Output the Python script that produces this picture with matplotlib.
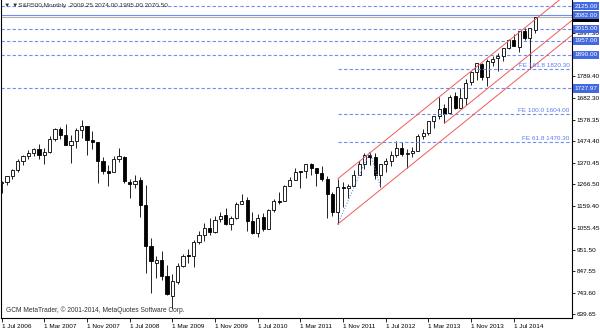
import numpy as np
import matplotlib
matplotlib.use("Agg")
import matplotlib.pyplot as plt

plt.rcParams['font.family'] = ['Liberation Sans', 'DejaVu Sans']

# S&P500 monthly candles, Jul 2006 .. Nov 2014
opens = [1270.1, 1278.5, 1303.8, 1335.8, 1377.8, 1400.6,
         1418.0, 1437.9, 1406.8, 1420.8, 1482.4, 1530.6, 1504.7, 1455.2, 1473.9, 1527.3, 1545.8, 1479.6,
         1468.0, 1378.6, 1330.5, 1326.4, 1386.0, 1399.6, 1276.7, 1269.4, 1287.8, 1164.2, 968.7, 888.6,
         903.0, 823.1, 729.6, 793.6, 872.7, 923.3, 920.8, 990.2, 1019.5, 1054.9, 1036.2, 1098.9,
         1116.6, 1073.9, 1105.4, 1171.2, 1188.6, 1087.3, 1031.1, 1107.5, 1049.7, 1143.5, 1185.7, 1186.6,
         1257.6, 1289.1, 1328.6, 1329.5, 1365.2, 1345.2, 1320.6, 1292.6, 1219.1, 1131.2, 1251.0, 1246.9,
         1258.9, 1312.5, 1365.9, 1408.5, 1397.9, 1309.9, 1362.3, 1379.3, 1406.5, 1440.9, 1412.2, 1416.2,
         1426.2, 1498.1, 1514.7, 1569.2, 1597.6, 1631.7, 1609.8, 1689.4, 1636.0, 1682.4, 1758.7, 1806.6,
         1845.9, 1782.7, 1857.7, 1874.0, 1884.4, 1923.9, 1962.3, 1929.8, 2004.1, 1971.4, 2009.25]
highs = [1280.4, 1306.7, 1340.3, 1389.5, 1407.9, 1431.8,
         1441.6, 1461.6, 1438.9, 1498.0, 1535.6, 1540.6, 1555.9, 1503.9, 1538.7, 1576.1, 1545.8, 1523.6,
         1471.8, 1396.0, 1359.7, 1404.0, 1440.2, 1404.1, 1292.2, 1313.2, 1303.0, 1264.3, 1007.5, 918.9,
         943.9, 875.0, 833.0, 888.7, 930.2, 956.2, 996.7, 1039.5, 1080.2, 1101.4, 1113.7, 1130.4,
         1150.5, 1112.4, 1180.7, 1219.8, 1205.1, 1131.2, 1121.0, 1129.2, 1148.9, 1196.1, 1227.1, 1262.6,
         1302.7, 1344.1, 1332.3, 1364.6, 1370.6, 1345.2, 1356.5, 1307.4, 1229.3, 1292.7, 1277.6, 1269.4,
         1333.5, 1378.0, 1419.2, 1424.0, 1415.3, 1363.5, 1391.7, 1426.7, 1474.5, 1471.0, 1434.3, 1448.0,
         1509.9, 1530.9, 1570.3, 1597.6, 1687.2, 1654.2, 1698.8, 1709.7, 1729.9, 1775.2, 1813.6, 1849.4,
         1850.8, 1867.9, 1884.0, 1897.3, 1924.0, 1968.2, 1991.4, 2005.0, 2019.3, 2018.2, 2074.0]
lows = [1224.5, 1261.0, 1290.9, 1327.1, 1360.9, 1385.9,
        1403.9, 1389.4, 1363.9, 1416.4, 1476.7, 1484.2, 1454.3, 1370.6, 1439.3, 1489.6, 1406.1, 1435.7,
        1270.1, 1316.8, 1257.0, 1324.4, 1373.1, 1272.0, 1200.4, 1247.4, 1106.4, 839.8, 741.0, 815.7,
        804.2, 734.5, 666.8, 783.3, 866.1, 888.9, 869.3, 978.5, 992.0, 1020.2, 1029.4, 1085.9,
        1071.6, 1044.5, 1100.4, 1170.7, 1040.8, 1028.3, 1010.9, 1039.7, 1048.2, 1131.9, 1173.0, 1186.6,
        1257.6, 1289.1, 1249.1, 1294.7, 1311.8, 1258.1, 1282.9, 1101.5, 1114.2, 1074.0, 1158.7, 1202.4,
        1258.9, 1312.5, 1340.0, 1357.4, 1292.0, 1254.0, 1325.4, 1354.7, 1396.6, 1403.3, 1343.4, 1398.1,
        1426.2, 1485.0, 1501.5, 1536.0, 1581.3, 1560.3, 1604.6, 1627.5, 1633.4, 1646.5, 1746.2, 1768.0,
        1770.5, 1737.9, 1834.4, 1814.4, 1859.8, 1916.0, 1930.7, 1904.8, 1964.0, 1821.0, 1995.0]
closes = [1276.7, 1303.8, 1335.9, 1377.9, 1400.6, 1418.3,
          1438.2, 1406.8, 1420.9, 1482.4, 1530.6, 1503.4, 1455.3, 1474.0, 1526.8, 1549.4, 1481.1, 1468.4,
          1378.6, 1330.6, 1322.7, 1385.6, 1400.4, 1280.0, 1267.4, 1282.8, 1166.4, 968.8, 896.2, 903.3,
          825.9, 735.1, 797.9, 872.8, 919.1, 919.3, 987.5, 1020.6, 1057.1, 1036.2, 1095.6, 1115.1,
          1073.9, 1104.5, 1169.4, 1186.7, 1089.4, 1030.7, 1101.6, 1049.3, 1141.2, 1183.3, 1180.6, 1257.6,
          1286.1, 1327.2, 1325.8, 1363.6, 1345.2, 1320.6, 1292.3, 1218.9, 1131.4, 1253.3, 1247.0, 1257.6,
          1312.4, 1365.7, 1408.5, 1397.9, 1310.3, 1362.2, 1379.3, 1406.6, 1440.7, 1412.2, 1416.2, 1426.2,
          1498.1, 1514.7, 1569.2, 1597.6, 1630.7, 1606.3, 1685.7, 1633.0, 1681.6, 1756.5, 1805.8, 1848.4,
          1782.6, 1859.5, 1872.3, 1884.0, 1923.6, 1960.2, 1930.7, 2003.4, 1972.3, 2018.1, 2070.5]

date_labels = ["1 Jul 2006", "1 Mar 2007", "1 Nov 2007", "1 Jul 2008", "1 Mar 2009", "1 Nov 2009",
               "1 Jul 2010", "1 Mar 2011", "1 Nov 2011", "1 Jul 2012", "1 Mar 2013", "1 Nov 2013",
               "1 Jul 2014"]
price_ticks = [639.65, 743.60, 847.55, 951.50, 1055.45, 1159.40, 1266.50, 1370.45, 1474.40,
               1578.35, 1682.30, 1789.40, 1997.30]
hlevels = [2125.00, 2015.00, 1957.00, 1890.00, 1727.97]
blue_line = 2082.00
bid = 2070.50
fe_ratios = [0.618, 1.0, 1.618]
fe_idx = [63, 69, 71]      # Oct 2011 low, Apr 2012 high, Jun 2012 low
chan_idx = [63, 99, 83]    # channel anchors

opens = np.array(opens); highs = np.array(highs)
lows = np.array(lows); closes = np.array(closes)
x = np.arange(len(opens))
up = closes >= opens

fig = plt.figure(figsize=(6, 3.33), dpi=100)
ax = fig.add_axes([1 / 600, 15 / 333, 571 / 600, 318 / 333])
xmax = 106.9
ax.set_xlim(-0.13, xmax)
ax.set_ylim(621.6, 2154.4)

blue = '#4169E1'
lblue = '#6f8ff0'
red = '#f05a5a'

# candles
ax.vlines(x, lows, highs, color='#222222', lw=0.7, zorder=2)
ax.bar(x[up], (closes - opens)[up], bottom=opens[up], width=0.6,
       color='white', edgecolor='black', lw=0.6, zorder=3)
ax.bar(x[~up], (opens - closes)[~up], bottom=closes[~up], width=0.6,
       color='black', edgecolor='black', lw=0.6, zorder=3)

# horizontal levels
for v in hlevels:
    ax.axhline(v, color=lblue, ls=(0, (3, 2)), lw=0.8, zorder=1)
ax.axhline(blue_line, color=lblue, lw=0.8, zorder=1)
ax.axhline(bid, color='#b0b0b0', lw=0.8, zorder=1)

# fibo expansion
a, b, c = lows[fe_idx[0]], highs[fe_idx[1]], lows[fe_idx[2]]
ax.plot(fe_idx, [a, b, c], color=lblue, ls=(0, (1, 1.5)), lw=0.8, zorder=4)
for r in fe_ratios:
    lv = c + r * (b - a)
    ax.hlines(lv, fe_idx[0], xmax, color=lblue, ls=(0, (3, 2)), lw=0.8, zorder=4)
    ax.text(xmax - 0.4, lv + 6, f"FE {r * 100:.1f} {lv:.2f}", ha='right', va='bottom',
            fontsize=4.6, color='#5a7cf0', zorder=5)

# red channel
i0, i1, i2 = chan_idx
slope = (lows[i1] - lows[i0]) / (i1 - i0)
xs = np.array([i0, xmax])
ax.plot(xs, lows[i0] + slope * (xs - i0), color=red, lw=0.7, zorder=4)
ax.plot(xs, highs[i0] + slope * (xs - i0), color=red, lw=0.7, zorder=4)
xm = np.array([i2, xmax])
ax.plot(xm, lows[i2] + slope * (xm - i2), color=red, lw=0.7, zorder=4)

# axes styling
ax.spines['top'].set_visible(False)
for s in ['left', 'right', 'bottom']:
    ax.spines[s].set_linewidth(0.8)
ax.yaxis.tick_right()
ax.set_yticks(price_ticks)
ax.set_yticklabels([f"{v:.2f}" for v in price_ticks])
ax.tick_params(axis='y', length=2, width=0.6, pad=1.5, labelsize=4.6)
ax.set_xticks(np.arange(0, 8 * len(date_labels), 8))
ax.set_xticklabels(date_labels, ha='left')
ax.tick_params(axis='x', length=3, width=0.6, pad=1.5, labelsize=4.6)

# price label boxes
ytr = ax.get_yaxis_transform()
ax.text(1.004, bid, f"{bid:.2f}", transform=ytr, ha='left', va='center', fontsize=4.6,
        color='white', bbox=dict(boxstyle='square,pad=0.25', fc='black', ec='none'),
        clip_on=False, zorder=6)
for v in hlevels + [blue_line]:
    ax.text(1.004, v, f"{v:.2f}", transform=ytr, ha='left', va='center', fontsize=4.6,
            color='white', bbox=dict(boxstyle='square,pad=0.25', fc=blue, ec='none'),
            clip_on=False, zorder=7)

ax.text(0.006, 0.984, "▼ ▼S&P500,Monthly  2009.25 2074.00 1995.00 2070.50",
        transform=ax.transAxes, ha='left', va='center', fontsize=4.6, color='#333333')
ax.text(0.008, 0.024, "GCM MetaTrader, © 2001-2014, MetaQuotes Software Corp.",
        transform=ax.transAxes, ha='left', va='center', fontsize=4.8, color='#333333')

fig.savefig("out.png", dpi=100)
